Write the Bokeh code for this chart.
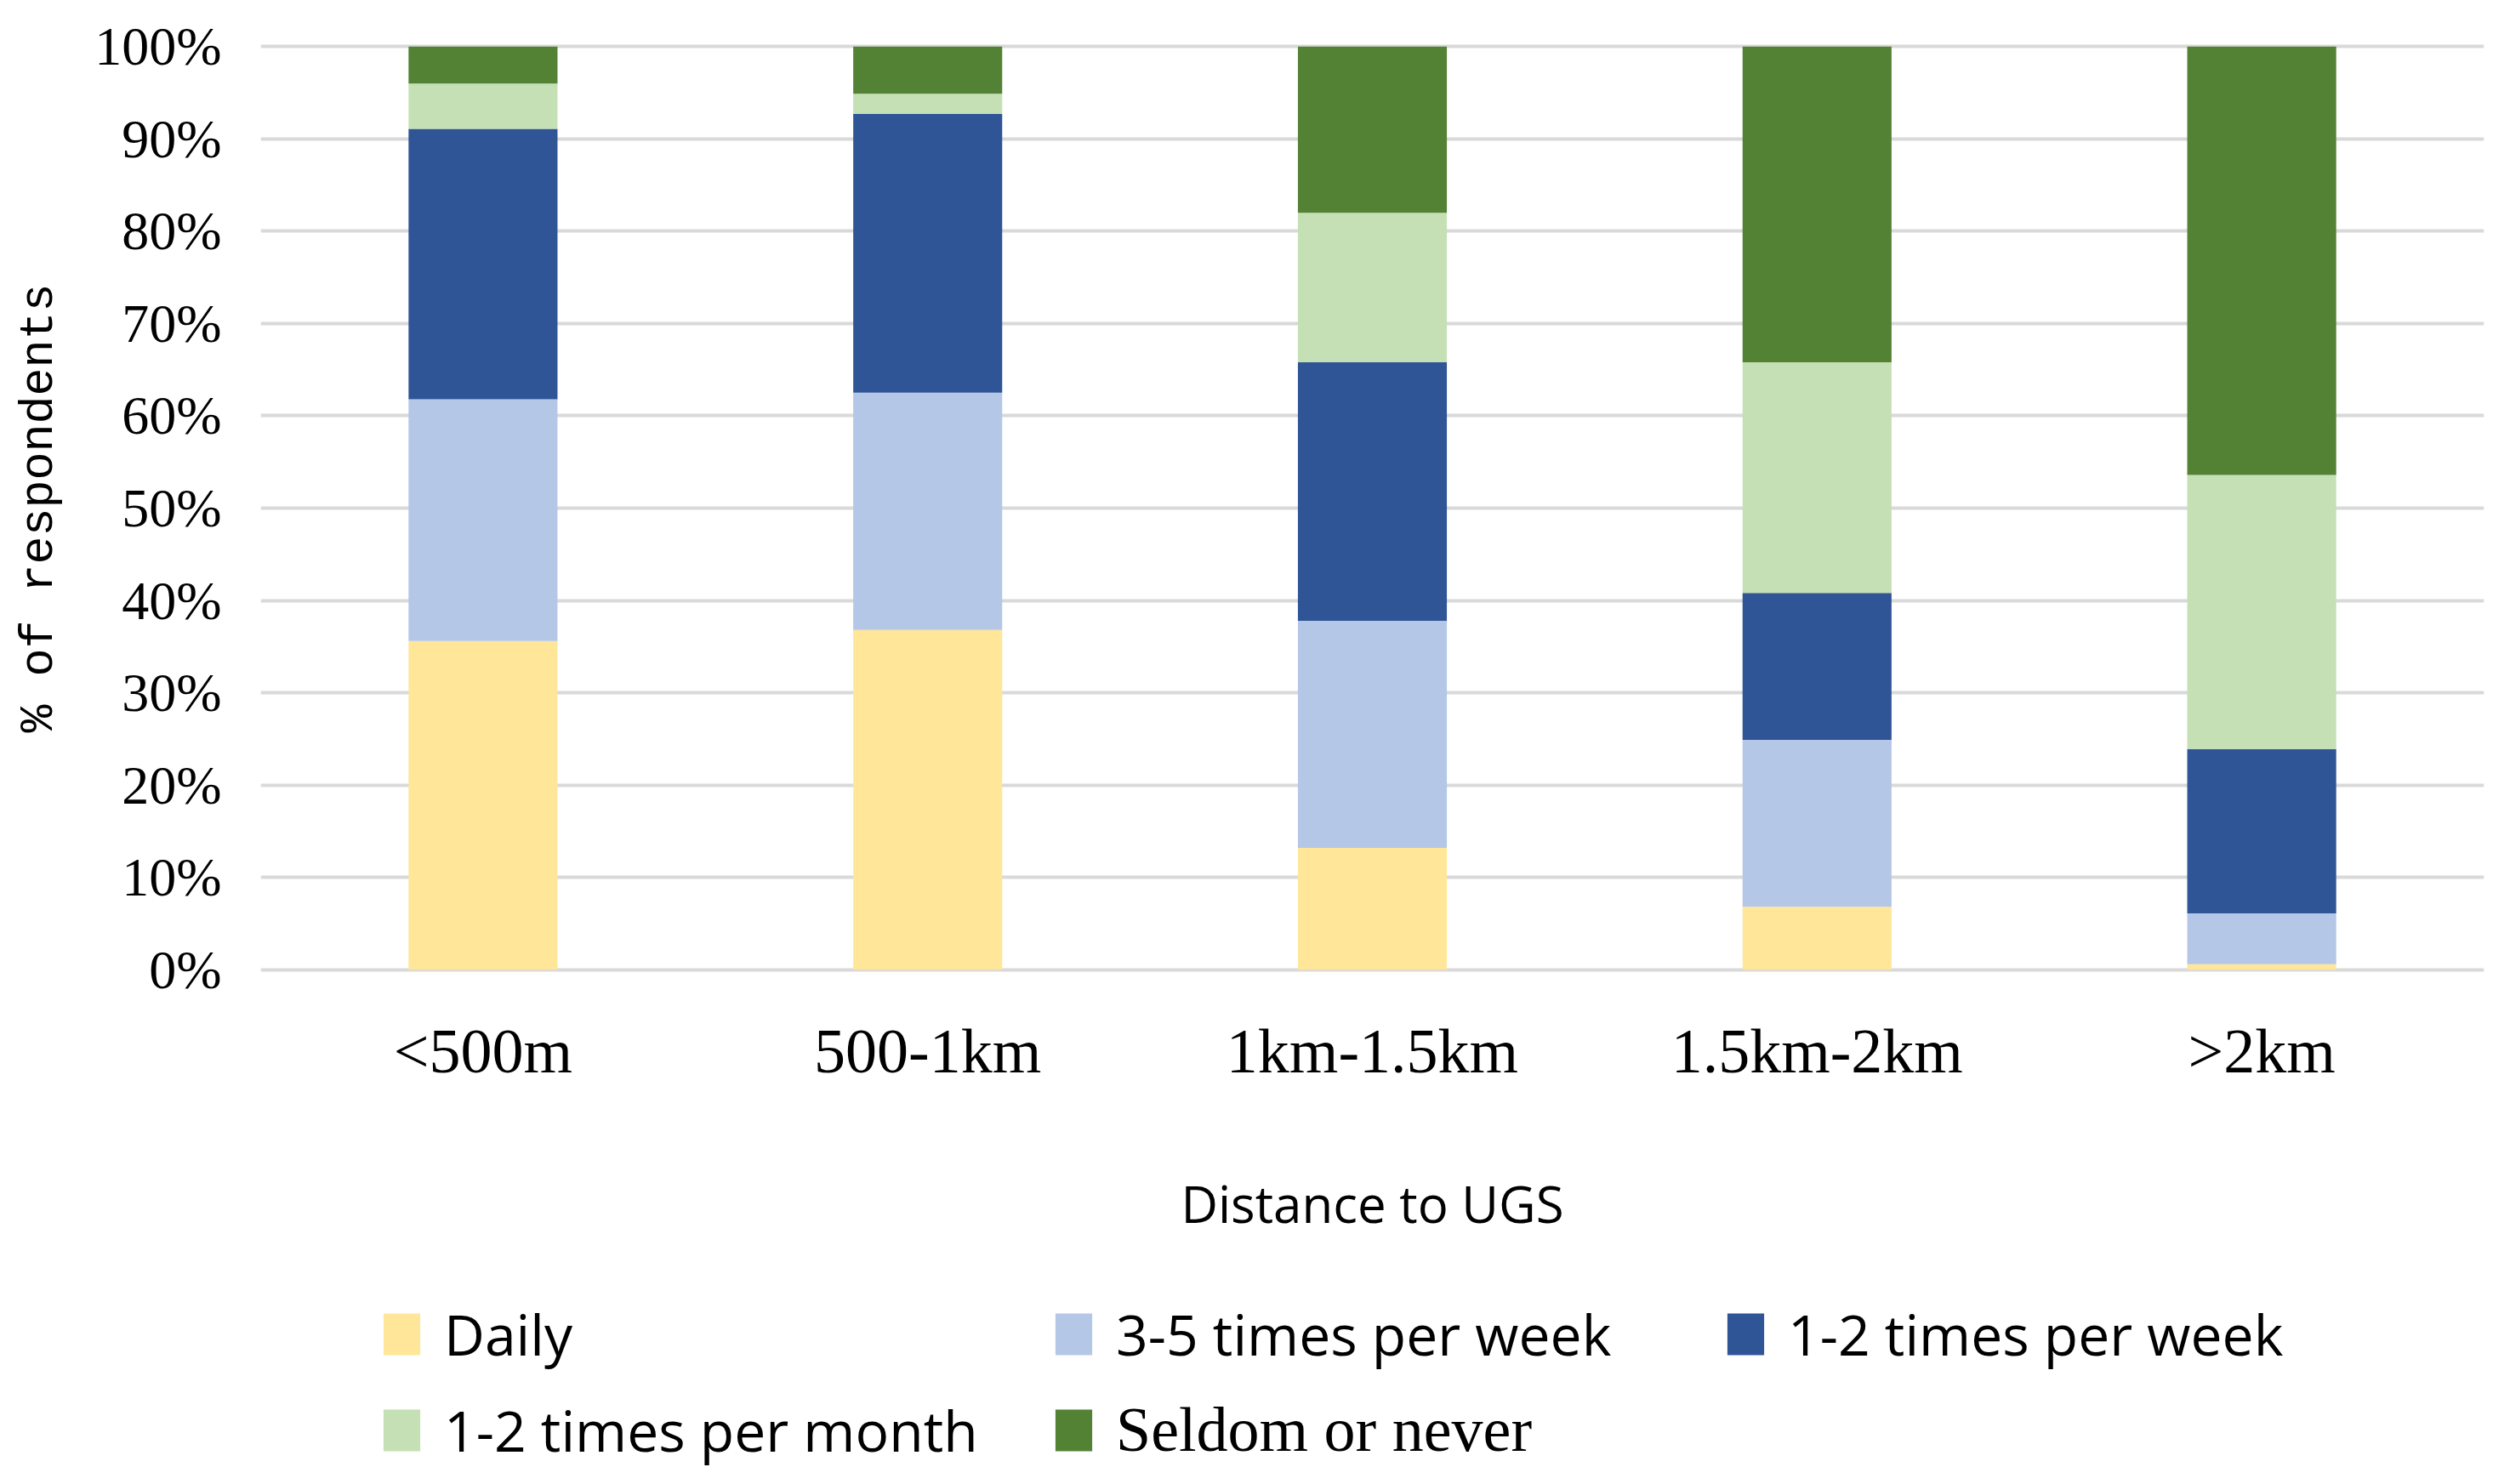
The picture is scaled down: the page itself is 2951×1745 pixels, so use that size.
from bokeh.plotting import figure
from bokeh.layouts import column
from bokeh.models import (ColumnDataSource, FactorRange, Range1d, FixedTicker,
                          PrintfTickFormatter, Legend, LegendItem)
from bokeh.embed import file_html
from bokeh.resources import INLINE

categories = ["<500m", "500-1km", "1km-1.5km", "1.5km-2km", ">2km"]
series_names = ["Daily", "3-5 times per week", "1-2 times per week",
                "1-2 times per month", "Seldom or never"]
daily = [35.6, 36.8, 13.2, 6.8, 0.6]
three_five_week = [26.2, 25.7, 24.6, 18.1, 5.5]
one_two_week = [29.3, 30.2, 28.0, 15.9, 17.8]
one_two_month = [4.9, 2.2, 16.2, 25.0, 29.7]
seldom = [4.0, 5.1, 18.0, 34.2, 46.4]
y_ticks = [0, 10, 20, 30, 40, 50, 60, 70, 80, 90, 100]
colors = ["#FFE699", "#B4C7E7", "#2F5597", "#C5E0B4", "#548235"]

keys = ["daily", "three_five", "one_two_week", "one_two_month", "seldom"]
source = ColumnDataSource(dict(
    cat=categories, daily=daily, three_five=three_five_week,
    one_two_week=one_two_week, one_two_month=one_two_month, seldom=seldom))

W = 2930
p = figure(width=W, height=1470, output_backend="svg", toolbar_location=None,
           x_range=FactorRange(*categories, range_padding=0),
           y_range=Range1d(-0.4, 100.4),
           min_border_left=306, min_border_right=10,
           min_border_top=50, min_border_bottom=326)
p.outline_line_color = None

p.vbar_stack(keys, x="cat", width=0.335, source=source,
             color=colors, line_color=None)

p.xgrid.grid_line_color = None
p.ygrid.grid_line_color = "#D9D9D9"
p.ygrid.grid_line_width = 4
p.yaxis.ticker = FixedTicker(ticks=y_ticks)
p.yaxis.formatter = PrintfTickFormatter(format="%d%%")
for ax in (p.xaxis[0], p.yaxis[0]):
    ax.axis_line_color = None
    ax.major_tick_line_color = None
    ax.minor_tick_line_color = None
    ax.major_tick_in = 0
    ax.major_tick_out = 0
    ax.major_label_text_color = "#000000"
    ax.axis_label_text_color = "#000000"
    ax.axis_label_text_font_style = "normal"

p.yaxis.major_label_text_font = "Liberation Serif"
p.yaxis.major_label_text_font_size = "64px"
p.yaxis.major_label_standoff = 46
p.yaxis.axis_label = "% of respondents"
p.yaxis.axis_label_text_font = "Liberation Mono"
p.yaxis.axis_label_text_font_size = "55px"
p.yaxis.axis_label_standoff = 30

p.xaxis.major_label_text_font = "Liberation Serif"
p.xaxis.major_label_text_font_size = "74px"
p.xaxis.major_label_standoff = 50
p.xaxis.axis_label = "Distance to UGS"
p.xaxis.axis_label_text_font = "Open Sans"
p.xaxis.axis_label_text_font_size = "60px"
p.xaxis.axis_label_standoff = 94

# legend panel (separate figure below the chart; its frame aligns with the chart's)
lg = figure(width=W, height=258, output_backend="svg", toolbar_location=None,
            x_axis_type=None, y_axis_type=None,
            x_range=Range1d(0, 1), y_range=Range1d(0, 1),
            min_border_left=0, min_border_right=0,
            min_border_top=0, min_border_bottom=0)
lg.outline_line_color = None
lg.xgrid.grid_line_color = None
lg.ygrid.grid_line_color = None
# zero-height key glyphs, only used to draw the legend swatches
swatches = [lg.vbar(x=[0.5], top=[0], bottom=[0], width=0.01, color=c, line_color=None)
            for c in colors]
items = [LegendItem(label=n, renderers=[r]) for n, r in zip(series_names, swatches)]

common = dict(orientation="horizontal", padding=0, margin=0, spacing=23,
              glyph_width=54, glyph_height=61, label_standoff=23,
              label_width=690, border_line_color=None, background_fill_alpha=0,
              label_text_color="#000000")
legend = Legend(items=items[:4], ncols=3, location=(139, 2),
                label_text_font="Open Sans", label_text_font_size="66px", **common)
legend2 = Legend(items=items[4:], ncols=1, location=(929, 4),
                 label_text_font="Liberation Serif", label_text_font_size="74px",
                 **common)
lg.add_layout(legend, "center")
lg.add_layout(legend2, "center")

layout = column(p, lg, spacing=0)
open("out.html", "w").write(file_html(layout, INLINE))
